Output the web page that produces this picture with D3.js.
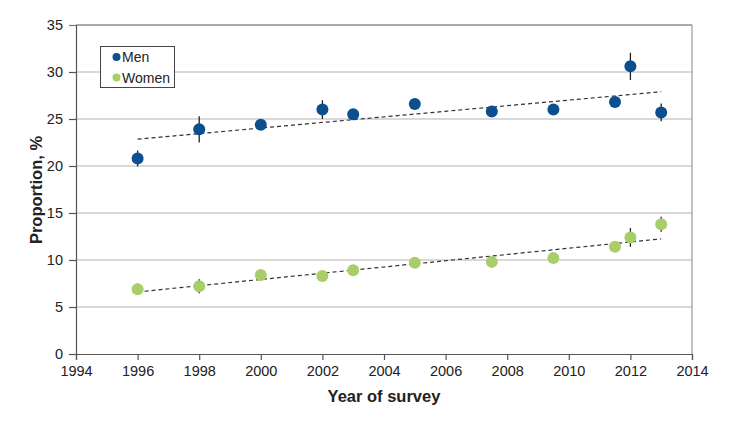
<!DOCTYPE html>
<html><head><meta charset="utf-8">
<script src="https://cdn.jsdelivr.net/npm/d3@7"></script>
<style>
body{margin:0;background:#fff;}
svg{display:block;font-family:"Liberation Sans",Arial,Helvetica,sans-serif;}
</style></head>
<body><svg id="chart" width="742" height="426"></svg>
<script>
const years = [1996, 1998, 2000, 2002, 2003, 2005, 2007.5, 2009.5, 2011.5, 2012, 2013];
const menValues = [20.8, 23.9, 24.4, 26.0, 25.5, 26.6, 25.8, 26.0, 26.8, 30.6, 25.7];
const menErrors = [0.85, 1.4, 0, 1.0, 0, 0, 0, 0, 0, 1.45, 0.95];
const womenValues = [6.9, 7.2, 8.4, 8.3, 8.9, 9.7, 9.8, 10.2, 11.4, 12.4, 13.8];
const womenErrors = [0.6, 0.75, 0, 0, 0, 0, 0, 0, 0, 1.0, 0.8];
const trendYears = [1996, 2013];
const menTrend = [22.85, 27.9];
const womenTrend = [6.6, 12.25];
const xTicks = [1994, 1996, 1998, 2000, 2002, 2004, 2006, 2008, 2010, 2012, 2014];
const yTicks = [0, 5, 10, 15, 20, 25, 30, 35];
const seriesNames = ["Men", "Women"];
const colors = ["#0b4f8e", "#a9cd68"];

const svg = d3.select("#chart");
const L = 76, R = 692, T = 25, B = 354;
const x = d3.scaleLinear().domain([1994, 2014]).range([L, R]);
const y = d3.scaleLinear().domain([0, 35]).range([B, T]);

// gridlines
svg.append("g").selectAll("line").data(yTicks.filter(d => d > 0 && d < 35)).join("line")
  .attr("x1", L).attr("x2", R).attr("y1", d => y(d)).attr("y2", d => y(d))
  .attr("stroke", "#b3b3b3").attr("stroke-width", 1.2);

// frame: top and right
svg.append("line").attr("x1", L).attr("x2", R).attr("y1", T).attr("y2", T)
  .attr("stroke", "#555").attr("stroke-width", 1.2);
svg.append("line").attr("x1", R).attr("x2", R).attr("y1", T).attr("y2", B)
  .attr("stroke", "#999").attr("stroke-width", 1.2);

// axes
const yAxis = svg.append("g").attr("transform", `translate(${L},0)`)
  .call(d3.axisLeft(y).tickValues(yTicks).tickSize(7).tickPadding(6).tickFormat(d3.format("d")));
const xAxis = svg.append("g").attr("transform", `translate(0,${B})`)
  .call(d3.axisBottom(x).tickValues(xTicks).tickSize(6).tickPadding(6).tickFormat(d3.format("d")));
[yAxis, xAxis].forEach(a => {
  a.select(".domain").attr("stroke", "#555").attr("stroke-width", 1.2);
  a.selectAll(".tick line").attr("stroke", "#555").attr("stroke-width", 1.2);
  a.selectAll("text").attr("font-size", 14.5).attr("fill", "#222")
    .attr("font-family", "'Liberation Sans',Arial,sans-serif");
});
yAxis.selectAll(".tick").filter(d => d === 35).select("line").attr("stroke", "#777");

// trend lines
[menTrend, womenTrend].forEach(t => {
  svg.append("line")
    .attr("x1", x(trendYears[0])).attr("y1", y(t[0]))
    .attr("x2", x(trendYears[1])).attr("y2", y(t[1]))
    .attr("stroke", "#333").attr("stroke-width", 1.2).attr("stroke-dasharray", "4,3");
});

// series: error bars behind dots
const series = [[menValues, menErrors], [womenValues, womenErrors]];
series.forEach(([vals, errs], si) => {
  const g = svg.append("g");
  const data = years.map((yr, i) => ({yr, v: vals[i], e: errs[i]}));
  g.selectAll("line").data(data.filter(d => d.e > 0)).join("line")
    .attr("x1", d => x(d.yr)).attr("x2", d => x(d.yr))
    .attr("y1", d => y(d.v + d.e)).attr("y2", d => y(d.v - d.e))
    .attr("stroke", "#222").attr("stroke-width", 1.3);
  g.selectAll("circle").data(data).join("circle")
    .attr("cx", d => x(d.yr)).attr("cy", d => y(d.v)).attr("r", 6)
    .attr("fill", colors[si]);
});

// legend
const lg = svg.append("g");
lg.append("rect").attr("x", 100.5).attr("y", 46.5).attr("width", 74).attr("height", 41)
  .attr("fill", "#fff").attr("stroke", "#444").attr("stroke-width", 1);
seriesNames.forEach((n, i) => {
  lg.append("circle").attr("cx", 116.5).attr("cy", 57 + i * 20.5).attr("r", 4).attr("fill", colors[i]);
  lg.append("text").attr("x", 122).attr("y", 62 + i * 20.5).text(n)
    .attr("font-size", 14).attr("fill", "#222");
});

// axis titles
svg.append("text").attr("x", 384).attr("y", 402).attr("text-anchor", "middle")
  .attr("font-size", 16.5).attr("font-weight", "bold").attr("fill", "#222").text("Year of survey");
svg.append("text").attr("transform", "translate(42,190) rotate(-90)").attr("text-anchor", "middle")
  .attr("font-size", 16.5).attr("font-weight", "bold").attr("fill", "#222").text("Proportion, %");
</script>
</body></html>
